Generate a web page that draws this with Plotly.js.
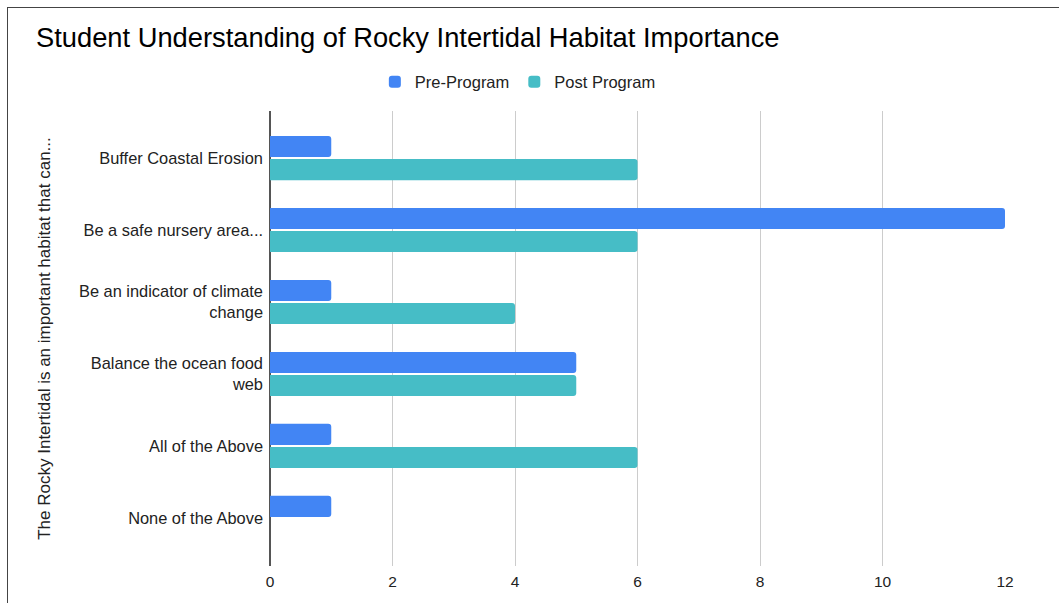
<!DOCTYPE html>
<html>
<head>
<meta charset="utf-8">
<script src="https://cdn.plot.ly/plotly-3.0.1.min.js"></script>
<style>
  html, body { margin: 0; padding: 0; background: #fff; }
  #wrap { position: relative; width: 1059px; height: 603px; overflow: hidden; }
  #chart { position: absolute; left: 0; top: 0; width: 1059px; height: 603px; }
  #frame { position: absolute; left: 7px; top: 7px; width: 1060px; height: 700px; border-left: 1.5px solid #444; border-top: 1.5px solid #444; pointer-events: none; }
</style>
</head>
<body>
<div id="wrap">
  <div id="chart"></div>
  <div id="frame"></div>
</div>
<script>
const categories = [
  "Buffer Coastal Erosion",
  "Be a safe nursery area...",
  "Be an indicator of climate<br>change",
  "Balance the ocean food<br>web",
  "All of the Above",
  "None of the Above"
];
const preProgram = [1, 12, 1, 5, 1, 1];
const postProgram = [6, 6, 4, 5, 6, 0];
const seriesNames = ["Pre-Program", "Post Program"];
const xTicks = [0, 2, 4, 6, 8, 10, 12];

const FONT = "Arial, 'Liberation Sans', sans-serif";

const traces = [
  {
    type: "bar", orientation: "h", name: seriesNames[0],
    y: categories, x: preProgram,
    marker: { color: "#4285F4" }, hoverinfo: "x+name"
  },
  {
    type: "bar", orientation: "h", name: seriesNames[1],
    y: categories, x: postProgram,
    marker: { color: "#46BDC6" }, hoverinfo: "x+name"
  }
];

const layout = {
  width: 1059, height: 603,
  paper_bgcolor: "#fff", plot_bgcolor: "#fff",
  font: { family: FONT, color: "#222", size: 16 },
  margin: { l: 270, r: 54, t: 111, b: 37, autoexpand: false },
  title: {
    text: "Student Understanding of Rocky Intertidal Habitat Importance",
    font: { family: FONT, size: 27.3, color: "#000" },
    x: 0, xref: "container", xanchor: "left",
    y: 1, yref: "container", yanchor: "top",
    pad: { t: 28, l: 36 }
  },
  barmode: "group",
  bargap: 0.36,
  bargroupgap: 0.08,
  barcornerradius: 3,
  showlegend: true,
  legend: {
    orientation: "h", x: 0.489, xref: "container", xanchor: "center",
    y: 0.864, yref: "container", yanchor: "middle",
    font: { family: FONT, size: 16.5, color: "#222" },
    traceorder: "normal"
  },
  xaxis: {
    range: [0, 12],
    tickvals: xTicks,
    ticktext: xTicks.map(String),
    showgrid: true, gridcolor: "#cccccc", gridwidth: 1,
    zeroline: true, zerolinecolor: "#555", zerolinewidth: 1.5,
    showline: false, ticks: "",
    ticklabelstandoff: 4,
    tickfont: { family: FONT, size: 15.5, color: "#222" },
    automargin: false, fixedrange: true
  },
  yaxis: {
    type: "category",
    range: [5.667, -0.653],
    showgrid: false, zeroline: false, showline: false, ticks: "",
    ticklabelstandoff: 6,
    tickfont: { family: FONT, size: 16.4, color: "#222" },
    title: {
      text: "The Rocky Intertidal is an important habitat that can...",
      font: { family: FONT, size: 17, color: "#222" },
      standoff: 24
    },
    automargin: false, fixedrange: true
  }
};

Plotly.newPlot("chart", traces, layout, { displayModeBar: false, staticPlot: true });
</script>
</body>
</html>
